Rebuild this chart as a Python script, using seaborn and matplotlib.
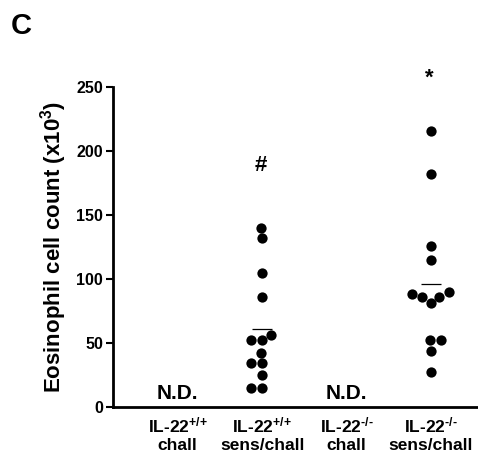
import numpy as np
import pandas as pd
import matplotlib
matplotlib.use('Agg')
import matplotlib.pyplot as plt
import seaborn as sns

sns.set_style('ticks')
plt.rcParams['font.family'] = ['Liberation Sans', 'DejaVu Sans']
plt.rcParams['font.weight'] = 'bold'
plt.rcParams['mathtext.fontset'] = 'custom'
plt.rcParams['mathtext.rm'] = 'Liberation Sans:bold'
plt.rcParams['mathtext.bf'] = 'Liberation Sans:bold'
plt.rcParams['mathtext.default'] = 'bf'
for k in ['text.color', 'axes.labelcolor', 'xtick.color', 'ytick.color', 'axes.edgecolor']:
    plt.rcParams[k] = 'black'

# 数据
groups = ['IL-22$^{\\text{+/+}}$\nchall', 'IL-22$^{\\text{+/+}}$\nsens/chall',
          'IL-22$^{\\text{-/-}}$\nchall', 'IL-22$^{\\text{-/-}}$\nsens/chall']
wt_sens = [140, 132, 105, 86, 56, 52, 52, 42, 34, 34, 25, 15, 15]
ko_sens = [216, 182, 126, 115, 90, 88, 86, 86, 81, 52, 52, 44, 27]
marks = ['N.D.', '#', 'N.D.', '*']
mark_y = [189, 189, 189, 257]

df = pd.DataFrame({
    'group': [groups[1]] * len(wt_sens) + [groups[3]] * len(ko_sens),
    'count': wt_sens + ko_sens,
})

fig = plt.figure(figsize=(4.78, 4.63), dpi=100)
ax = fig.add_axes([0.236, 0.121, 0.764, 0.691])

sns.swarmplot(data=df, x='group', y='count', order=groups, color='black',
              size=7.4, ax=ax)

# 均值横线
for i, g in enumerate(groups):
    vals = df.loc[df['group'] == g, 'count']
    if len(vals):
        ax.hlines(vals.mean(), i - 0.12, i + 0.12, color='black', lw=0.9)

# 标注: 无数据组写 N.D.，其他写显著性符号
for i, (m, y) in enumerate(zip(marks, mark_y)):
    if m == 'N.D.':
        ax.text(i, 6, m, ha='center', va='baseline', fontsize=15, fontweight='bold')
    else:
        ax.text(i - 0.02, y, m, ha='center', va='center', fontsize=16,
                fontweight='bold', clip_on=False)

ax.set_xlim(-0.77, 3.56)
ax.set_ylim(0, 250)
ax.set_yticks(range(0, 251, 50))
ax.set_xlabel('')
ax.set_ylabel('Eosinophil cell count (x10$^{3}$)', fontsize=16, fontweight='bold',
              labelpad=5)
ax.tick_params(axis='y', labelsize=11.5, width=1.5, length=5, pad=2)
ax.tick_params(axis='x', labelsize=12.5, length=0, pad=6)
for lab in ax.get_xticklabels() + ax.get_yticklabels():
    lab.set_fontweight('bold')
ax.spines['top'].set_visible(False)
ax.spines['right'].set_visible(False)
ax.spines['left'].set_linewidth(2)
ax.spines['bottom'].set_linewidth(2)

fig.text(0.022, 0.975, 'C', fontsize=21, fontweight='bold', va='top')

plt.savefig('out.png', dpi=100)
